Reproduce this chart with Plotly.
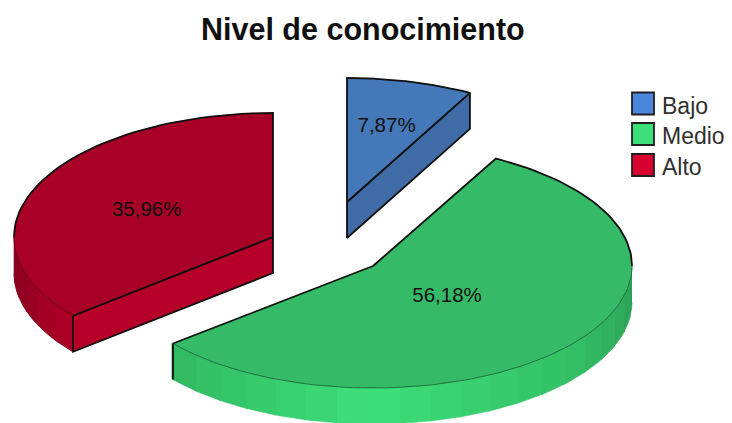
import numpy as np
import plotly.graph_objects as go

categories = ["Bajo", "Medio", "Alto"]
percent = [7.87, 56.18, 35.96]
percent_labels = ["7,87%", "56,18%", "35,96%"]
title = "Nivel de conocimiento"

# ---- styling / projection (not data) ----
RX, DEPTH = 259, 36
RY = {"Bajo": 124, "Medio": 122, "Alto": 124}
apex = {"Bajo": (347, 202), "Medio": (373, 266), "Alto": (273, 237)}
label_r = {"Bajo": 0.64, "Medio": 0.375, "Alto": 0.535}
top_col = {"Bajo": "#4478B8", "Medio": "#35BB67", "Alto": "#A80026"}
cut_col = {"Bajo": "#3F6CA6", "Medio": "#35BB67", "Alto": "#B70029"}
base_col = {"Bajo": (74, 134, 220), "Medio": (61, 224, 120), "Alto": (215, 0, 48)}
EDGE = "#101010"
PAGE_INSET = 8  # the page body keeps an 8px margin

fig = go.Figure()


def pt(name, deg, r=1.0, dz=0.0):
    a = np.radians(deg)
    cx, cy = apex[name]
    return cx + RX * r * np.sin(a), cy - RY[name] * r * np.cos(a) + dz


def poly(xs, ys, fill, line=None, width=0):
    fig.add_trace(go.Scatter(
        x=list(xs), y=list(ys), mode="lines", fill="toself", fillcolor=fill,
        line=dict(color=line if line else fill, width=width if line else 0.6),
        hoverinfo="skip", showlegend=False))


def edge(xs, ys, width=1.8, color=EDGE):
    fig.add_trace(go.Scatter(x=list(xs), y=list(ys), mode="lines",
                             line=dict(color=color, width=width),
                             hoverinfo="skip", showlegend=False))


def shade(name, deg):
    f = np.interp(deg, [90, 130, 180, 230, 270], [0.70, 0.85, 1.0, 0.82, 0.60])
    return "rgb({},{},{})".format(*[int(c * f) for c in base_col[name]])


# slice angles come from the values
ends = np.cumsum(percent) / sum(percent) * 360
starts = np.concatenate([[0], ends[:-1]])
angles = {c: (s, e) for c, s, e in zip(categories, starts, ends)}

# outer walls (only the part facing the viewer), stepped shading
for name in categories:
    s, e = angles[name]
    lo, hi = max(s, 90), min(e, 270)
    if lo < hi:
        cuts = np.arange(lo, hi + 7, 7.0)
        cuts[-1] = hi
        cuts = cuts[cuts <= hi]
        for d0, d1 in zip(cuts[:-1], cuts[1:]):
            t = np.linspace(d0, d1 + 0.4, 6)
            x, y = pt(name, t)
            x2, y2 = pt(name, t[::-1], dz=DEPTH)
            poly(np.r_[x, x2], np.r_[y, y2], shade(name, (d0 + d1) / 2))

# flat cut faces that are visible
for name in ["Bajo", "Alto"]:
    s, e = angles[name]
    d = e if name == "Bajo" else s
    px, py = pt(name, d)
    cx, cy = apex[name]
    poly([cx, px, px, cx, cx], [cy, py, py + DEPTH, cy + DEPTH, cy], cut_col[name])
    edge([cx, px, px, cx, cx], [cy, py, py + DEPTH, cy + DEPTH, cy])

# vertical edges of the walls
px, py = pt("Medio", angles["Medio"][1])
edge([px, px], [py, py + DEPTH])

# top faces
for name in categories:
    s, e = angles[name]
    t = np.linspace(s, e, 120)
    x, y = pt(name, t)
    cx, cy = apex[name]
    poly(np.r_[cx, x, cx], np.r_[cy, y, cy], top_col[name])
    if name == "Medio":
        # back rim and straight edges dark, front rim thin
        t1 = np.linspace(s, 90, 40)
        xb, yb = pt(name, t1)
        edge(np.r_[cx, xb], np.r_[cy, yb])
        ex, ey = pt(name, e)
        edge([cx, ex], [cy, ey])
        t2 = np.linspace(90, e, 80)
        xf, yf = pt(name, t2)
        edge(xf, yf, width=0.8, color="#1c5c34")
    elif name == "Alto":
        t1 = np.linspace(270, e, 40)
        xb, yb = pt(name, t1)
        edge(np.r_[xb, cx], np.r_[yb, cy])
        ex, ey = pt(name, s)
        edge([cx, ex], [cy, ey])
        t2 = np.linspace(s, 270, 40)
        xf, yf = pt(name, t2)
        edge(xf, yf, width=0.8, color="#5a0015")
    else:
        edge(np.r_[cx, x, cx], np.r_[cy, y, cy])

# outer silhouette of the red wall (left side)
t = np.linspace(angles["Alto"][0], 270, 40)
x, y = pt("Alto", t, dz=DEPTH)
edge(x, y, width=0.8, color="#7a0a22")

# value labels
for name, lab in zip(categories, percent_labels):
    s, e = angles[name]
    lx, ly = pt(name, (s + e) / 2, r=label_r[name])
    fig.add_trace(go.Scatter(x=[lx - 1], y=[ly + 2], mode="text", text=[lab],
                             textposition="middle center",
                             textfont=dict(family="Liberation Sans", size=20.5, color="#101010"),
                             hoverinfo="skip", showlegend=False))

# legend
LEG_Y = [103.5, 134, 165]
for name, ly in zip(categories, LEG_Y):
    fig.add_trace(go.Scatter(
        x=[643], y=[ly], mode="markers",
        marker=dict(symbol="square", size=22, color="rgb({},{},{})".format(*base_col[name]),
                    line=dict(color="#202020", width=1.8)),
        hoverinfo="skip", showlegend=False))
    fig.add_annotation(x=660, y=ly + 2, text=name, showarrow=False, xanchor="left", yanchor="middle",
                       font=dict(family="Liberation Sans", size=23, color="#303030"))

fig.add_annotation(x=363, y=28.5, text="<b>" + title + "</b>", showarrow=False,
                   font=dict(family="Liberation Sans", size=30.5, color="#101010"))

fig.update_layout(
    width=732 - PAGE_INSET, height=423 - PAGE_INSET, margin=dict(l=0, r=0, t=0, b=0),
    paper_bgcolor="white", plot_bgcolor="white", showlegend=False,
    xaxis=dict(range=[PAGE_INSET, 732], visible=False, fixedrange=True),
    yaxis=dict(range=[423, PAGE_INSET], visible=False, fixedrange=True),
)
fig.write_html("out.html", config={"displayModeBar": False})
